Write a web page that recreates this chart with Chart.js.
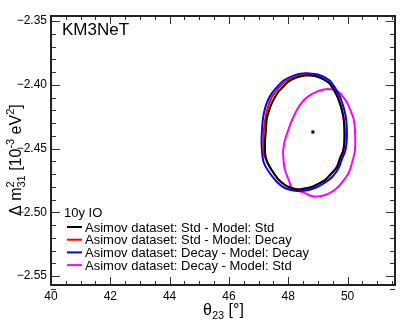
<!DOCTYPE html>
<html>
<head>
<meta charset="utf-8">
<script src="https://cdn.jsdelivr.net/npm/chart.js@4.4.1/dist/chart.umd.min.js"></script>
<style>
  body { margin: 0; background: #fff; }
  canvas { display: block; }
</style>
</head>
<body>
<canvas id="chart" width="417" height="327"></canvas>
<script>
// tick labels
const xTicks = [40, 42, 44, 46, 48, 50];
const yTicks = [-2.55, -2.50, -2.45, -2.40, -2.35];

// best fit point
const bestFitX = [48.83];
const bestFitY = [-2.437];

// Asimov dataset: Std - Model: Std
const stdStdX = [48.67, 49.00, 49.34, 49.48, 49.68, 49.85, 49.90, 49.86, 49.75, 49.64, 49.41, 49.24, 49.00, 48.79, 48.57, 48.33, 48.06, 47.89, 47.66, 47.44, 47.29, 47.22, 47.22, 47.25, 47.27, 47.33, 47.42, 47.50, 47.66, 47.79, 47.99, 48.23, 48.47, 48.67];
const stdStdY = [-2.3924, -2.3937, -2.3978, -2.4018, -2.4104, -2.4237, -2.4394, -2.4511, -2.4574, -2.4645, -2.4707, -2.4747, -2.4778, -2.4801, -2.4813, -2.4821, -2.4805, -2.4786, -2.4739, -2.4668, -2.4605, -2.4535, -2.4433, -2.4355, -2.4276, -2.4221, -2.4159, -2.4119, -2.4057, -2.4025, -2.3978, -2.3947, -2.3931, -2.3924];

// Asimov dataset: Std - Model: Decay
const stdDecayX = [48.60, 49.00, 49.34, 49.48, 49.68, 49.85, 49.90, 49.86, 49.75, 49.64, 49.41, 49.24, 49.00, 48.79, 48.57, 48.33, 48.06, 47.89, 47.66, 47.44, 47.29, 47.17, 47.17, 47.18, 47.22, 47.27, 47.35, 47.45, 47.59, 47.72, 47.93, 48.16, 48.40, 48.60];
const stdDecayY = [-2.3919, -2.3937, -2.3978, -2.4018, -2.4104, -2.4237, -2.4394, -2.4511, -2.4574, -2.4645, -2.4707, -2.4747, -2.4778, -2.4801, -2.4813, -2.4821, -2.4805, -2.4786, -2.4739, -2.4668, -2.4605, -2.4535, -2.4433, -2.4355, -2.4276, -2.4213, -2.4151, -2.4096, -2.4049, -2.4014, -2.3970, -2.3943, -2.3927, -2.3919];

// Asimov dataset: Decay - Model: Decay
const decayDecayX = [48.57, 49.00, 49.38, 49.54, 49.75, 49.93, 49.98, 49.93, 49.81, 49.70, 49.48, 49.27, 49.04, 48.80, 48.57, 48.30, 48.03, 47.82, 47.59, 47.35, 47.18, 47.12, 47.10, 47.12, 47.15, 47.22, 47.32, 47.45, 47.62, 47.82, 48.06, 48.30, 48.57];
const decayDecayY = [-2.3908, -2.3919, -2.3963, -2.4010, -2.4096, -2.4237, -2.4394, -2.4511, -2.4582, -2.4652, -2.4723, -2.4762, -2.4794, -2.4817, -2.4829, -2.4833, -2.4821, -2.4801, -2.4754, -2.4684, -2.4613, -2.4535, -2.4433, -2.4339, -2.4261, -2.4182, -2.4119, -2.4065, -2.4018, -2.3970, -2.3939, -2.3919, -2.3908];

// Asimov dataset: Decay - Model: Std
const decayStdX = [49.00, 49.34, 49.68, 49.97, 50.08, 50.20, 50.25, 50.25, 50.15, 50.03, 49.85, 49.69, 49.48, 49.24, 49.00, 48.80, 48.57, 48.33, 48.12, 48.03, 47.89, 47.84, 47.83, 47.89, 48.00, 48.13, 48.33, 48.53, 48.74, 49.00];
const decayStdY = [-2.4049, -2.4033, -2.4053, -2.4133, -2.4190, -2.4263, -2.4355, -2.4511, -2.4613, -2.4694, -2.4754, -2.4799, -2.4837, -2.4864, -2.4876, -2.4872, -2.4851, -2.4829, -2.4812, -2.4754, -2.4668, -2.4590, -2.4511, -2.4433, -2.4355, -2.4276, -2.4182, -2.4119, -2.4080, -2.4049];

const FONT = '"Liberation Sans", Arial, Helvetica, sans-serif';

function pts(xs, ys) {
    return xs.map((x, i) => ({ x: x, y: ys[i] }));
}

const contours = [
    { label: 'Asimov dataset: Std - Model: Std', color: '#000000', data: pts(stdStdX, stdStdY) },
    { label: 'Asimov dataset: Std - Model: Decay', color: '#ff0000', data: pts(stdDecayX, stdDecayY) },
    { label: 'Asimov dataset: Decay - Model: Decay', color: '#0000ff', data: pts(decayDecayX, decayDecayY) },
    { label: 'Asimov dataset: Decay - Model: Std', color: '#ff00ff', data: pts(decayStdX, decayStdY) }
];

const datasets = [{
    label: 'best fit',
    data: pts(bestFitX, bestFitY),
    showLine: false,
    pointStyle: 'star',
    pointRadius: 2,
    borderColor: '#000',
    borderWidth: 1,
    order: 0
}];
contours.forEach((c, i) => {
    datasets.push({
        label: c.label,
        data: c.data,
        showLine: true,
        borderColor: c.color,
        backgroundColor: c.color,
        borderWidth: 2,
        pointRadius: 0,
        fill: false,
        tension: 0.3,
        order: i + 1
    });
});

// frame, minor ticks, titles and legend
const decorPlugin = {
    id: 'decor',
    afterDraw(chart) {
        const ctx = chart.ctx;
        const a = chart.chartArea;
        const xs = chart.scales.x;
        const ys = chart.scales.y;
        ctx.save();

        // ticks on all four sides, pointing inwards
        ctx.strokeStyle = '#333';
        ctx.lineWidth = 1;
        ctx.beginPath();
        for (let v = 40; v <= 51.6; v += 0.5) {
            const px = Math.round(xs.getPixelForValue(v)) + 0.5;
            const major = Math.abs(v / 2 - Math.round(v / 2)) < 1e-6;
            const len = major ? 8 : 4;
            ctx.moveTo(px, a.bottom); ctx.lineTo(px, a.bottom - len);
            ctx.moveTo(px, a.top); ctx.lineTo(px, a.top + len);
        }
        for (let k = -256; k <= -235; k++) {
            const v = k / 100;
            const py = Math.round(ys.getPixelForValue(v)) + 0.5;
            const major = k % 5 === 0;
            const len = major ? 9 : 5;
            ctx.moveTo(a.left, py); ctx.lineTo(a.left + len, py);
            ctx.moveTo(a.right, py); ctx.lineTo(a.right - len, py);
        }
        ctx.stroke();

        // frame
        ctx.strokeStyle = '#222';
        ctx.lineWidth = 2;
        ctx.strokeRect(a.left, a.top, a.right - a.left, a.bottom - a.top);

        ctx.fillStyle = '#000';
        ctx.textBaseline = 'alphabetic';

        // experiment label
        ctx.font = '17px ' + FONT;
        ctx.textAlign = 'left';
        ctx.fillText('KM3NeT', 62, 35);

        // x title: theta_23 [deg]
        let x = 203;
        const by = 315;
        ctx.font = '16px ' + FONT;
        ctx.fillText('\u03b8', x, by);
        x += ctx.measureText('\u03b8').width;
        ctx.font = '11px ' + FONT;
        ctx.fillText('23', x, by + 4);
        x += ctx.measureText('23').width;
        ctx.font = '16px ' + FONT;
        ctx.fillText(' [\u00b0]', x, by);

        // y title: Delta m^2_31 [10^-3 eV^2]
        ctx.save();
        ctx.translate(21, 216);
        ctx.rotate(-Math.PI / 2);
        const big = '16px ' + FONT;
        const small = '11px ' + FONT;
        let t = 0;
        ctx.font = big;
        ctx.fillText('\u0394 m', t, 0);
        t += ctx.measureText('\u0394 m').width;
        ctx.font = small;
        ctx.fillText('2', t, -7);
        ctx.fillText('31', t, 4);
        t += ctx.measureText('31').width;
        ctx.font = big;
        ctx.fillText(' [10', t, 0);
        t += ctx.measureText(' [10').width;
        ctx.font = small;
        ctx.fillText('-3', t, -7);
        t += ctx.measureText('-3').width;
        ctx.font = big;
        ctx.fillText(' eV', t, 0);
        t += ctx.measureText(' eV').width;
        ctx.font = small;
        ctx.fillText('2', t, -7);
        t += ctx.measureText('2').width;
        ctx.font = big;
        ctx.fillText(']', t, 0);
        ctx.restore();

        // legend
        ctx.font = '13px ' + FONT;
        ctx.fillText('10y IO', 64, 217);
        contours.forEach((c, i) => {
            const cy = 227 + i * 12.7;
            ctx.strokeStyle = c.color;
            ctx.lineWidth = 2;
            ctx.beginPath();
            ctx.moveTo(67, cy);
            ctx.lineTo(82, cy);
            ctx.stroke();
            ctx.fillText(c.label, 85, cy + 4.5);
        });

        ctx.restore();
    }
};

function fmtY(v) {
    return (v < 0 ? '\u2212' : '') + Math.abs(v).toFixed(2);
}

new Chart(document.getElementById('chart').getContext('2d'), {
    type: 'scatter',
    data: { datasets: datasets },
    options: {
        responsive: false,
        animation: false,
        devicePixelRatio: 1,
        layout: { padding: { top: 16, right: 22, left: 0, bottom: 0 } },
        plugins: {
            legend: { display: false },
            tooltip: { enabled: false }
        },
        scales: {
            x: {
                type: 'linear',
                min: 40,
                max: 51.6,
                afterFit: s => { s.height = 42; },
                afterBuildTicks: s => { s.ticks = xTicks.map(v => ({ value: v })); },
                grid: { display: false, drawTicks: false },
                border: { display: false },
                ticks: {
                    color: '#000',
                    font: { family: FONT, size: 12 },
                    padding: 4,
                    maxRotation: 0,
                    autoSkip: false,
                    callback: v => String(v)
                }
            },
            y: {
                type: 'linear',
                min: -2.557,
                max: -2.346,
                afterFit: s => { s.width = 51; },
                afterBuildTicks: s => { s.ticks = yTicks.map(v => ({ value: v })); },
                grid: { display: false, drawTicks: false },
                border: { display: false },
                ticks: {
                    color: '#000',
                    font: { family: FONT, size: 12 },
                    padding: 4,
                    autoSkip: false,
                    callback: v => fmtY(v)
                }
            }
        }
    },
    plugins: [decorPlugin]
});
</script>
</body>
</html>
